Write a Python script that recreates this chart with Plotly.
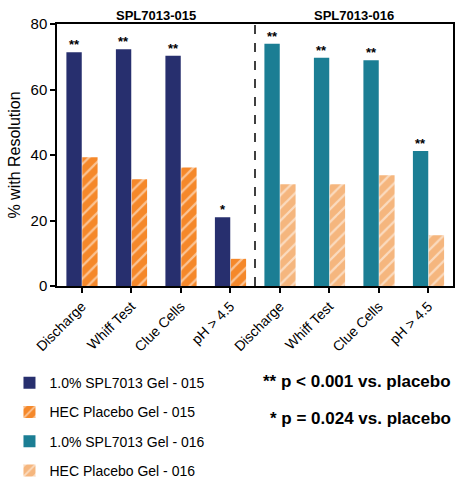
import plotly.graph_objects as go

categories = ["Discharge", "Whiff Test", "Clue Cells", "pH > 4.5"]
groups = ["SPL7013-015", "SPL7013-016"]
spl_015 = [71.4, 72.3, 70.3, 21.0]
hec_015 = [39.3, 32.6, 36.2, 8.3]
spl_016 = [74.0, 69.7, 68.9, 41.2]
hec_016 = [31.1, 31.1, 33.8, 15.5]
sig_015 = ["**", "**", "**", "*"]
sig_016 = ["**", "**", "**", "**"]
names = ["1.0% SPL7013 Gel - 015", "HEC Placebo Gel - 015",
         "1.0% SPL7013 Gel - 016", "HEC Placebo Gel - 016"]
yticks = [0, 20, 40, 60, 80]

FONT = "Liberation Sans, Arial, sans-serif"
C_NAVY = "#272F6E"
C_ORANGE = "#F5882A"
C_TEAL = "#1B7E94"
C_LIGHT = "#F5B67E"

n = len(categories)
pos_015 = list(range(n))
pos_016 = list(range(n, 2 * n))
all_pos = pos_015 + pos_016
all_labels = categories + categories

fig = go.Figure()

def add_bar(x, y, name, color, patterned, offset, group):
    marker = dict(color=color, line=dict(width=0))
    if patterned:
        marker["pattern"] = dict(shape="/", fgcolor="white", bgcolor=color,
                                 size=9, solidity=0.25, fillmode="overlay")
    fig.add_trace(go.Bar(x=x, y=y, name=name, marker=marker,
                         width=0.31, offset=offset, legendgroup=group))

add_bar(pos_015, spl_015, names[0], C_NAVY, False, -0.31, "a")
add_bar(pos_015, hec_015, names[1], C_ORANGE, True, 0.01, "b")
add_bar(pos_016, spl_016, names[2], C_TEAL, False, -0.31, "c")
add_bar(pos_016, hec_016, names[3], C_LIGHT, True, 0.01, "d")

for xs, ys, sg in [(pos_015, spl_015, sig_015), (pos_016, spl_016, sig_016)]:
    for x, y, s in zip(xs, ys, sg):
        fig.add_annotation(x=x - 0.155, y=y, text="<b>" + s + "</b>", showarrow=False,
                           yanchor="bottom", yshift=-2,
                           font=dict(family=FONT, size=13, color="black"))

# group titles
fig.add_annotation(x=(pos_015[0] + pos_015[-1]) / 2, y=1.0, xref="x", yref="paper",
                   text="<b>" + groups[0] + "</b>", showarrow=False, yanchor="bottom",
                   yshift=-1, font=dict(family=FONT, size=13, color="black"))
fig.add_annotation(x=(pos_016[0] + pos_016[-1]) / 2, y=1.0, xref="x", yref="paper",
                   text="<b>" + groups[1] + "</b>", showarrow=False, yanchor="bottom",
                   yshift=-1, font=dict(family=FONT, size=13, color="black"))

# divider
fig.add_shape(type="line", x0=(pos_015[-1] + pos_016[0]) / 2, x1=(pos_015[-1] + pos_016[0]) / 2,
              y0=0, y1=1, xref="x", yref="paper",
              line=dict(color="black", width=1.5, dash="dash"))

# p-value notes
fig.add_annotation(x=1.0, y=-0.41, xref="paper", yref="paper", xanchor="right",
                   text="<b>** p < 0.001 vs. placebo</b>", showarrow=False,
                   font=dict(family=FONT, size=17, color="black"))
fig.add_annotation(x=1.0, y=-0.55, xref="paper", yref="paper", xanchor="right",
                   text="<b>* p = 0.024 vs. placebo</b>", showarrow=False,
                   font=dict(family=FONT, size=17, color="black"))

fig.update_layout(
    width=455, height=484,
    margin=dict(l=57, r=2, t=24, b=198, autoexpand=False),
    plot_bgcolor="white", paper_bgcolor="white",
    barmode="overlay",
    font=dict(family=FONT, color="black"),
    showlegend=True,
    legend=dict(x=-0.12, y=-0.31, xanchor="left", yanchor="top",
                font=dict(family=FONT, size=14, color="black"),
                tracegroupgap=8, traceorder="grouped"),
    xaxis=dict(range=[-0.5, 2 * n - 0.5], tickvals=all_pos, ticktext=all_labels,
               tickangle=-45, showline=True, linecolor="black", linewidth=1.5,
               mirror=True, ticks="outside", ticklen=5, tickwidth=1.5, tickcolor="black",
               showgrid=False, zeroline=False, tickfont=dict(family=FONT, size=14)),
    yaxis=dict(range=[0, 80], tickvals=yticks, showline=True, linecolor="black",
               linewidth=1.5, mirror=True, ticks="outside", ticklen=5, tickwidth=1.5,
               tickcolor="black", showgrid=False, zeroline=False,
               tickfont=dict(family=FONT, size=15),
               title=dict(text="% with Resolution", font=dict(family=FONT, size=16), standoff=6)),
)

fig.write_html("out.html", config={"displayModeBar": False},
               post_script="document.body.style.margin='0';")
